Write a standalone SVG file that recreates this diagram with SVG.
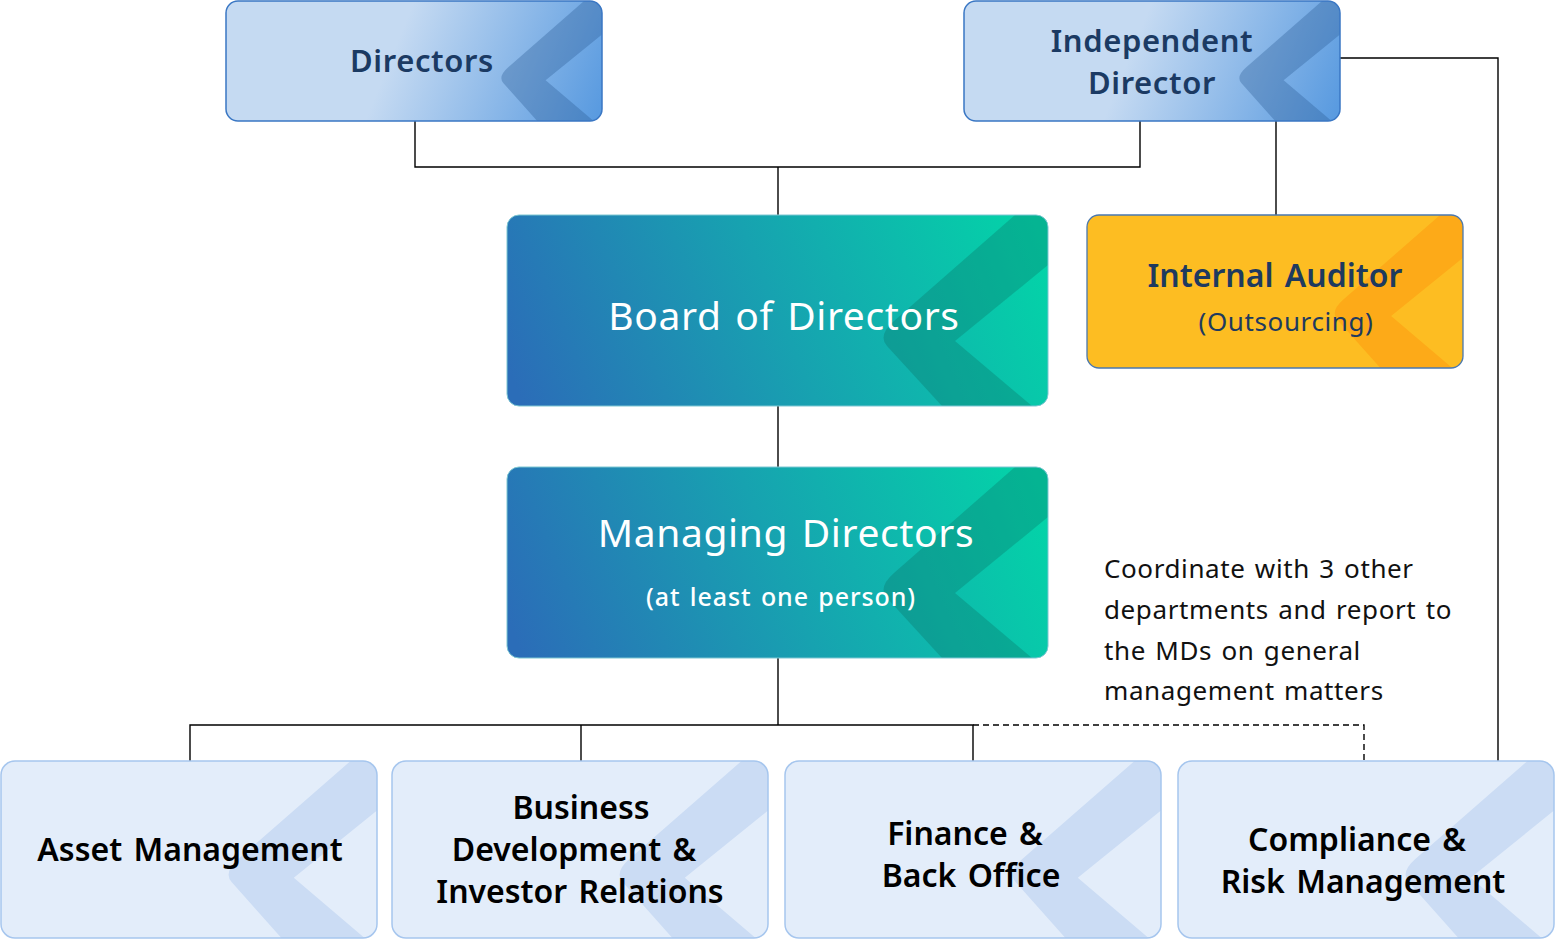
<svg xmlns="http://www.w3.org/2000/svg" width="1556" height="940" viewBox="0 0 1556 940">
<defs>
  <clipPath id="cSmall"><rect x="0" y="0" width="376" height="120" rx="12"/></clipPath>
  <clipPath id="cBig"><rect x="0" y="0" width="541" height="191" rx="12"/></clipPath>
  <clipPath id="cIA"><rect x="0" y="0" width="376" height="153" rx="12"/></clipPath>
  <clipPath id="cBot"><rect x="0" y="0" width="376" height="177" rx="14"/></clipPath>
  <linearGradient id="gTop" gradientUnits="userSpaceOnUse" x1="180" y1="20" x2="376" y2="100">
    <stop offset="0" stop-color="#c5daf2"/>
    <stop offset="1" stop-color="#5a9be0"/>
  </linearGradient>
  <linearGradient id="gBig" gradientUnits="userSpaceOnUse" x1="20" y1="200" x2="520" y2="-10">
    <stop offset="0" stop-color="#2b6db8"/>
    <stop offset="0.5" stop-color="#17a2b0"/>
    <stop offset="1" stop-color="#03d4a8"/>
  </linearGradient>
  <path id="chSmall" d="M358,0 L282,66.5 Q271.6,75.6 277.5,82.3 L311.2,120 L367.6,120 L319.6,79.2 L376,33.6 L376,0 Z"/>
  <path id="chBig" d="M508,0 L387,105.9 Q370.5,120.3 380,130.9 L435,191 L525,191 L448,126.1 L541,50 L541,0 Z"/>
  <path id="chIA" d="M353.1,0 L256.1,84.8 Q242.9,96.4 250.5,104.9 L293.4,153 L365.3,153 L304.1,101 L376,42.8 L376,0 Z"/>
  <path id="chBot" d="M349.5,0 L237.3,98.1 Q222,111.5 230.8,121.3 L280.4,177 L363.6,177 L292.8,116.8 L376,49.6 L376,0 Z"/>
</defs>
<style>
  text { font-family: "Noto Sans", "Open Sans", sans-serif; text-anchor: middle; }
  .tTop { font-size: 31px; font-weight: 600; fill: #1b3a63; letter-spacing: 0.6px; }
  .tBig { font-size: 39px; font-weight: 400; fill: #ffffff; letter-spacing: 0.6px; word-spacing: 3px; }
  .tBigSub { font-size: 25px; font-weight: 500; fill: #ffffff; letter-spacing: 0.9px; word-spacing: 2px; }
  .tIA { font-size: 32px; font-weight: 600; fill: #1e3a5f; word-spacing: 3px; }
  .tIASub { font-size: 26px; font-weight: 400; fill: #1e3a5f; letter-spacing: 0.6px; }
  .tBot { font-size: 32px; font-weight: 600; fill: #000000; word-spacing: 3px; }
  .tNote { font-size: 26px; font-weight: 400; fill: #111111; text-anchor: start; letter-spacing: 0.6px; word-spacing: 2px; }
  .fTop { fill: url(#gTop); }
  .sTop { fill: none; stroke: #3a77c4; stroke-width: 1.5; }
  .chTop { fill: #2b5b94; fill-opacity: 0.35; }
  .fBig { fill: url(#gBig); }
  .sBig { fill: none; stroke: #7cc6d2; stroke-width: 1; }
  .chBigF { fill: #0a6a60; fill-opacity: 0.3; }
  .fIA { fill: #fdbd22; }
  .sIA { fill: none; stroke: #4a78b0; stroke-width: 1.3; }
  .chIAF { fill: #fdaa18; }
  .fBot { fill: #e3edfa; }
  .sBot { fill: none; stroke: #a6c6ee; stroke-width: 1.5; }
  .chBotF { fill: #cbdcf4; }
  .conn { fill: none; stroke: #000000; stroke-width: 1.4; }
  .dash { stroke-dasharray: 6 4; }
</style>
<rect x="0" y="0" width="1556" height="940" fill="#ffffff"/>

<g id="connectors">
  <path class="conn" d="M415,121 V167 H1140 V121"/>
  <path class="conn" d="M778,167 V215"/>
  <path class="conn" d="M1276,121 V215"/>
  <path class="conn" d="M1340,58 H1498 V761"/>
  <path class="conn" d="M778,406 V467"/>
  <path class="conn" d="M778,658 V725"/>
  <path class="conn" d="M190,761 V725 H973 V761"/>
  <path class="conn" d="M581,725 V761"/>
  <path class="conn dash" d="M973,725 H1364 V761"/>
</g>

<g id="node-directors" transform="translate(226,1)">
  <rect class="fTop" x="0" y="0" width="376" height="120" rx="12"/>
  <use href="#chSmall" class="chTop" clip-path="url(#cSmall)"/>
  <rect class="sTop" x="0" y="0" width="376" height="120" rx="12"/>
  <text class="tTop" x="196" y="71">Directors</text>
</g>

<g id="node-independent-director" transform="translate(964,1)">
  <rect class="fTop" x="0" y="0" width="376" height="120" rx="12"/>
  <use href="#chSmall" class="chTop" clip-path="url(#cSmall)"/>
  <rect class="sTop" x="0" y="0" width="376" height="120" rx="12"/>
  <text class="tTop" x="188" y="51">Independent</text>
  <text class="tTop" x="188" y="93">Director</text>
</g>

<g id="node-board" transform="translate(507,215)">
  <rect class="fBig" x="0" y="0" width="541" height="191" rx="12"/>
  <use href="#chBig" class="chBigF" clip-path="url(#cBig)"/>
  <rect class="sBig" x="0" y="0" width="541" height="191" rx="12"/>
  <text class="tBig" x="277" y="115">Board of Directors</text>
</g>

<g id="node-internal-auditor" transform="translate(1087,215)">
  <rect class="fIA" x="0" y="0" width="376" height="153" rx="12"/>
  <use href="#chIA" class="chIAF" clip-path="url(#cIA)"/>
  <rect class="sIA" x="0" y="0" width="376" height="153" rx="12"/>
  <text class="tIA" x="188" y="72">Internal Auditor</text>
  <text class="tIASub" x="199" y="116">(Outsourcing)</text>
</g>

<g id="node-managing-directors" transform="translate(507,467)">
  <rect class="fBig" x="0" y="0" width="541" height="191" rx="12"/>
  <use href="#chBig" class="chBigF" clip-path="url(#cBig)"/>
  <rect class="sBig" x="0" y="0" width="541" height="191" rx="12"/>
  <text class="tBig" x="279" y="80">Managing Directors</text>
  <text class="tBigSub" x="274" y="139">(at least one person)</text>
</g>

<g id="note">
  <text class="tNote" x="1104" y="578">Coordinate with 3 other</text>
  <text class="tNote" x="1104" y="619">departments and report to</text>
  <text class="tNote" x="1104" y="660">the MDs on general</text>
  <text class="tNote" x="1104" y="700">management matters</text>
</g>

<g id="node-asset-management" transform="translate(1,761)">
  <rect class="fBot" x="0" y="0" width="376" height="177" rx="14"/>
  <use href="#chBot" class="chBotF" clip-path="url(#cBot)"/>
  <rect class="sBot" x="0" y="0" width="376" height="177" rx="14"/>
  <text class="tBot" x="189" y="100">Asset Management</text>
</g>

<g id="node-business-development" transform="translate(392,761)">
  <rect class="fBot" x="0" y="0" width="376" height="177" rx="14"/>
  <use href="#chBot" class="chBotF" clip-path="url(#cBot)"/>
  <rect class="sBot" x="0" y="0" width="376" height="177" rx="14"/>
  <text class="tBot" x="189" y="58">Business</text>
  <text class="tBot" x="182" y="100">Development &amp;</text>
  <text class="tBot" x="188" y="142">Investor Relations</text>
</g>

<g id="node-finance" transform="translate(785,761)">
  <rect class="fBot" x="0" y="0" width="376" height="177" rx="14"/>
  <use href="#chBot" class="chBotF" clip-path="url(#cBot)"/>
  <rect class="sBot" x="0" y="0" width="376" height="177" rx="14"/>
  <text class="tBot" x="180" y="84">Finance &amp;</text>
  <text class="tBot" x="186" y="126">Back Office</text>
</g>

<g id="node-compliance" transform="translate(1178,761)">
  <rect class="fBot" x="0" y="0" width="376" height="177" rx="14"/>
  <use href="#chBot" class="chBotF" clip-path="url(#cBot)"/>
  <rect class="sBot" x="0" y="0" width="376" height="177" rx="14"/>
  <text class="tBot" x="179" y="90">Compliance &amp;</text>
  <text class="tBot" x="185" y="132">Risk Management</text>
</g>
</svg>
